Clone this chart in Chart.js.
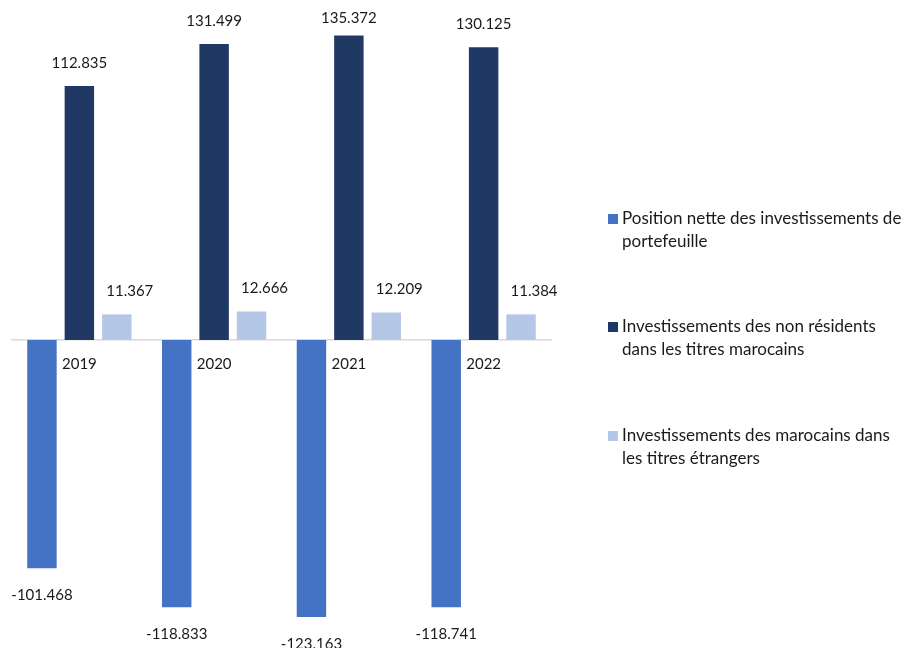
<!DOCTYPE html>
<html>
<head>
<meta charset="utf-8">
<script src="https://cdn.jsdelivr.net/npm/chart.js@4/dist/chart.umd.min.js"></script>
<style>
  html, body { margin: 0; padding: 0; background: #fff; }
  #wrap { position: relative; width: 920px; height: 648px; }
</style>
</head>
<body>
<div id="wrap"><canvas id="c" width="920" height="648"></canvas></div>
<script>
const categories = ['2019', '2020', '2021', '2022'];
const positionNette = [-101.468, -118.833, -123.163, -118.741];
const nonResidents = [112.835, 131.499, 135.372, 130.125];
const marocains = [11.367, 12.666, 12.209, 11.384];
const seriesLabels = [
  'Position nette des investissements de portefeuille',
  'Investissements des non résidents dans les titres marocains',
  'Investissements des marocains dans les titres étrangers'
];
const legendLines = [
  ['Position nette des investissements de', 'portefeuille'],
  ['Investissements des non résidents', 'dans les titres marocains'],
  ['Investissements des marocains dans', 'les titres étrangers']
];
const seriesColors = ['#4472C4', '#203864', '#B4C7E7'];
const FONT = 'Lato, "Open Sans", sans-serif';

const valueLabels = {
  id: 'valueLabels',
  afterDatasetsDraw(chart) {
    const ctx = chart.ctx;
    ctx.save();
    ctx.font = '15px ' + FONT;
    ctx.fillStyle = '#1a1a1a';
    ctx.textAlign = 'center';
    ctx.textBaseline = 'middle';
    chart.data.datasets.forEach((ds, di) => {
      const meta = chart.getDatasetMeta(di);
      const dx = di === 2 ? 13 : 0;
      meta.data.forEach((el, i) => {
        const v = ds.data[i];
        let y = v >= 0 ? Math.max(el.y - 23, 18) : el.y + 27;
        ctx.fillText(v.toFixed(3), el.x + dx, y);
      });
    });
    ctx.restore();
  }
};

const sideLegend = {
  id: 'sideLegend',
  afterDraw(chart) {
    const ctx = chart.ctx;
    ctx.save();
    ctx.font = '17px ' + FONT;
    ctx.textBaseline = 'middle';
    ctx.textAlign = 'left';
    const x0 = 608, tx = 622, lh = 23;
    const startY = [219, 327, 436];
    chart.data.datasets.forEach((ds, di) => {
      const y = startY[di];
      ctx.fillStyle = ds.backgroundColor;
      ctx.fillRect(x0, y - 5, 10, 10);
      ctx.fillStyle = '#1a1a1a';
      legendLines[di].forEach((ln, k) => ctx.fillText(ln, tx, y + k * lh));
    });
    ctx.restore();
  }
};

new Chart(document.getElementById('c'), {
  type: 'bar',
  data: {
    labels: categories,
    datasets: [
      { label: seriesLabels[0], data: positionNette, backgroundColor: seriesColors[0] },
      { label: seriesLabels[1], data: nonResidents, backgroundColor: seriesColors[1] },
      { label: seriesLabels[2], data: marocains, backgroundColor: seriesColors[2] }
    ]
  },
  options: {
    responsive: false,
    animation: false,
    devicePixelRatio: 1,
    layout: { padding: { left: 12, right: 369, top: 0, bottom: 2 } },
    datasets: { bar: { categoryPercentage: 0.833, barPercentage: 0.787 } },
    plugins: { legend: { display: false }, tooltip: { enabled: false } },
    scales: {
      x: {
        position: { y: 0 },
        afterFit: (s) => { s.height = 0; },
        grid: { display: true, color: 'rgba(0,0,0,0)', drawTicks: false },
        border: { display: true, color: '#D9D9D9', width: 1.5 },
        ticks: { color: '#1a1a1a', font: { family: FONT, size: 15 }, padding: 15 }
      },
      y: {
        display: false,
        min: -136,
        max: 151.1
      }
    }
  },
  plugins: [valueLabels, sideLegend]
});
</script>
</body>
</html>
